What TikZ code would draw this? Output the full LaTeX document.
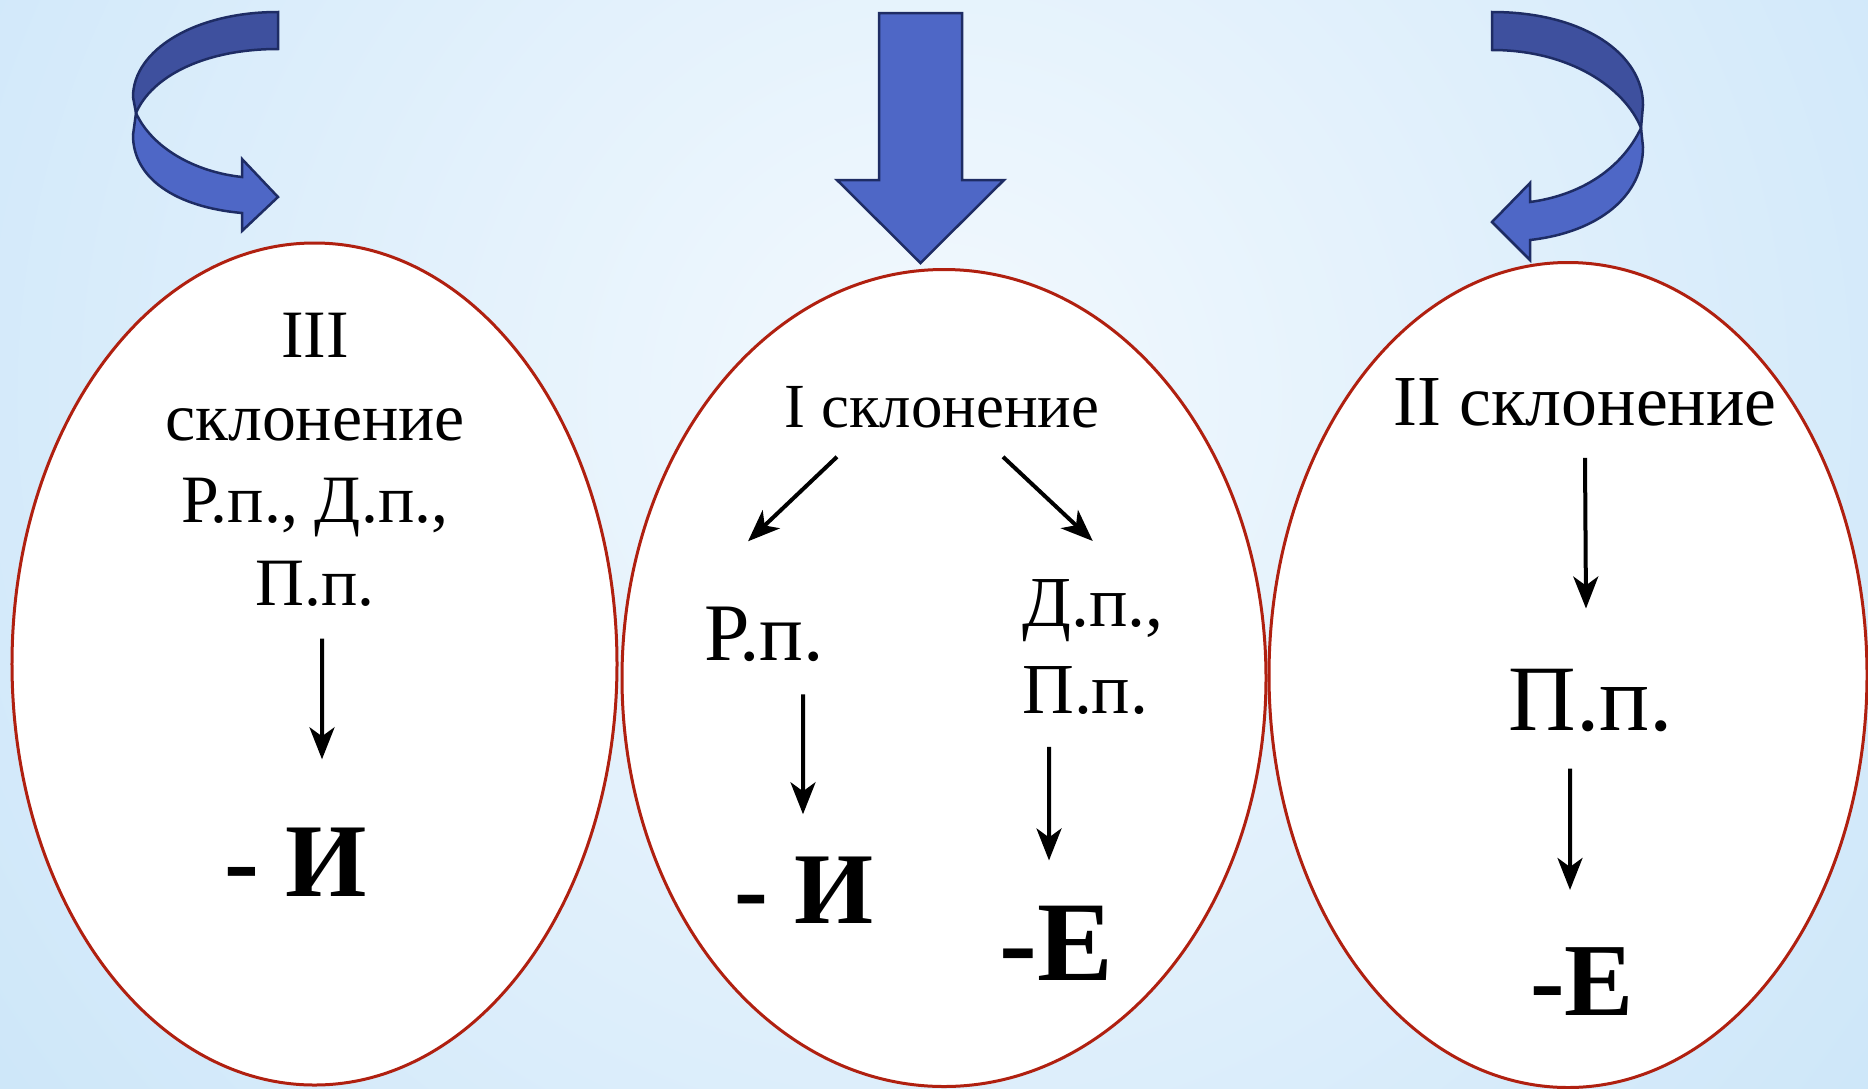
\documentclass[tikz,border=0pt]{standalone}
\usepackage{fontspec}
\setmainfont{Liberation Serif}
\usetikzlibrary{shapes.geometric,arrows.meta}
\definecolor{BgIn}{RGB}{243,249,254}
\definecolor{BgOut}{RGB}{184,220,246}
\definecolor{OvalRed}{RGB}{176,32,16}
\definecolor{RibbonDark}{RGB}{62,80,158}
\definecolor{RibbonLight}{RGB}{78,103,198}
\definecolor{RibbonEdge}{RGB}{30,44,100}

\begin{document}
\begin{tikzpicture}[
  x=1bp,y=-1bp,
  oval/.style={ellipse,draw=OvalRed,line width=3bp,fill=white,inner sep=0pt},
  txt/.style={inner sep=0pt,align=center,font=\fontsize{#1}{1.22\dimexpr#1pt}\selectfont},
  endg/.style={inner sep=0pt,font=\bfseries\fontsize{#1}{#1}\selectfont},
  ar/.style={line width=4bp,-{Stealth[length=32bp,width=25bp,inset=9bp]}},
  ribbon/.style={draw=RibbonEdge,line width=2.5bp},
]
\useasboundingbox (0,0) rectangle (1868,1088);
% pale sky behind everything, lighter towards the top middle
\begin{scope}
  \clip (0,0) rectangle (1868,1088);
  \fill[BgOut] (0,0) rectangle (1868,1088);
  \shade[inner color=BgIn,outer color=BgOut] (-900,-1434) rectangle (2768,2234);
\end{scope}

\node[oval,minimum width=605bp,minimum height=842bp] (o3) at (314.5,664) {};
\node[oval,minimum width=644bp,minimum height=817bp] (o1) at (944,678) {};
\node[oval,minimum width=598bp,minimum height=825bp] (o2) at (1568,675) {};

% III
\node[txt=68,anchor=north] (t3) at (315,313) {III\\склонение\\Р.п., Д.п.,\\П.п.};
\node[endg=105,anchor=base] (e3) at (296,896) {- И};
% I
\node[txt=63,anchor=base] (t1) at (942,427) {I склонение};
\node[txt=82,anchor=base] (rp) at (764,660) {Р.п.};
\node[txt=72,align=left,anchor=north west] (dp) at (1022,579) {Д.п.,\\П.п.};
\node[endg=102,anchor=base] (em) at (804,923) {- И};
\node[endg=114,anchor=base] (ee) at (1056,980) {-Е};
% II
\node[txt=72,anchor=base] (t2) at (1585,425) {II склонение};
\node[txt=94,anchor=base] (pp2) at (1591,730) {П.п.};
\node[endg=104,anchor=base] (e2) at (1582,1015) {-Е};

\draw[ar] ([xshift=7bp,yshift=-32bp]t3.south) -- ([xshift=26bp,yshift=68bp]e3.north);
\draw[ar] ([xshift=-105bp,yshift=-29bp]t1.south) -- ([xshift=-16bp,yshift=65bp]rp.north);
\draw[ar] ([xshift=61bp,yshift=-29bp]t1.south) -- ([yshift=38bp]dp.north);
\draw[ar] ([xshift=39bp,yshift=-33bp]rp.south) -- ([xshift=-1bp,yshift=42bp]em.north);
\draw[ar] ([xshift=27bp,yshift=-32bp]dp.south west) -- ([xshift=-7bp,yshift=45bp]ee.north);
\draw[ar] ([yshift=-32bp]t2.south) -- ([xshift=-5bp,yshift=60bp]pp2.north);
\draw[ar] ([xshift=-21bp,yshift=-37bp]pp2.south) -- ([xshift=-12bp,yshift=57bp]e2.north);

% blue arrows on top
\draw[ribbon,fill=RibbonDark] (278,12) .. controls (195,12) and (133,50) .. (133,97)
  -- (136,113) .. controls (152,76) and (205,49) .. (278,49) -- cycle;
\draw[ribbon,fill=RibbonLight] (136,113) .. controls (152,148) and (195,172) .. (242,177)
  -- (242,159) -- (278,197) -- (242,231) -- (242,213)
  .. controls (175,207) and (133,178) .. (133,135) -- cycle;
\draw[ribbon,fill=RibbonLight] (879,13) -- (962,13) -- (962,180) -- (1004,180)
  -- (920.5,263) -- (837,180) -- (879,180) -- cycle;
\draw[ribbon,fill=RibbonDark] (1492,12) .. controls (1585,12) and (1643,55) .. (1643,105)
  -- (1641,128) .. controls (1625,88) and (1570,50) .. (1492,50) -- cycle;
\draw[ribbon,fill=RibbonLight] (1641,128) .. controls (1622,168) and (1582,195) .. (1530,202)
  -- (1530,183) -- (1492,222) -- (1530,260) -- (1530,240)
  .. controls (1600,232) and (1643,195) .. (1643,147) -- cycle;
\end{tikzpicture}
\end{document}
